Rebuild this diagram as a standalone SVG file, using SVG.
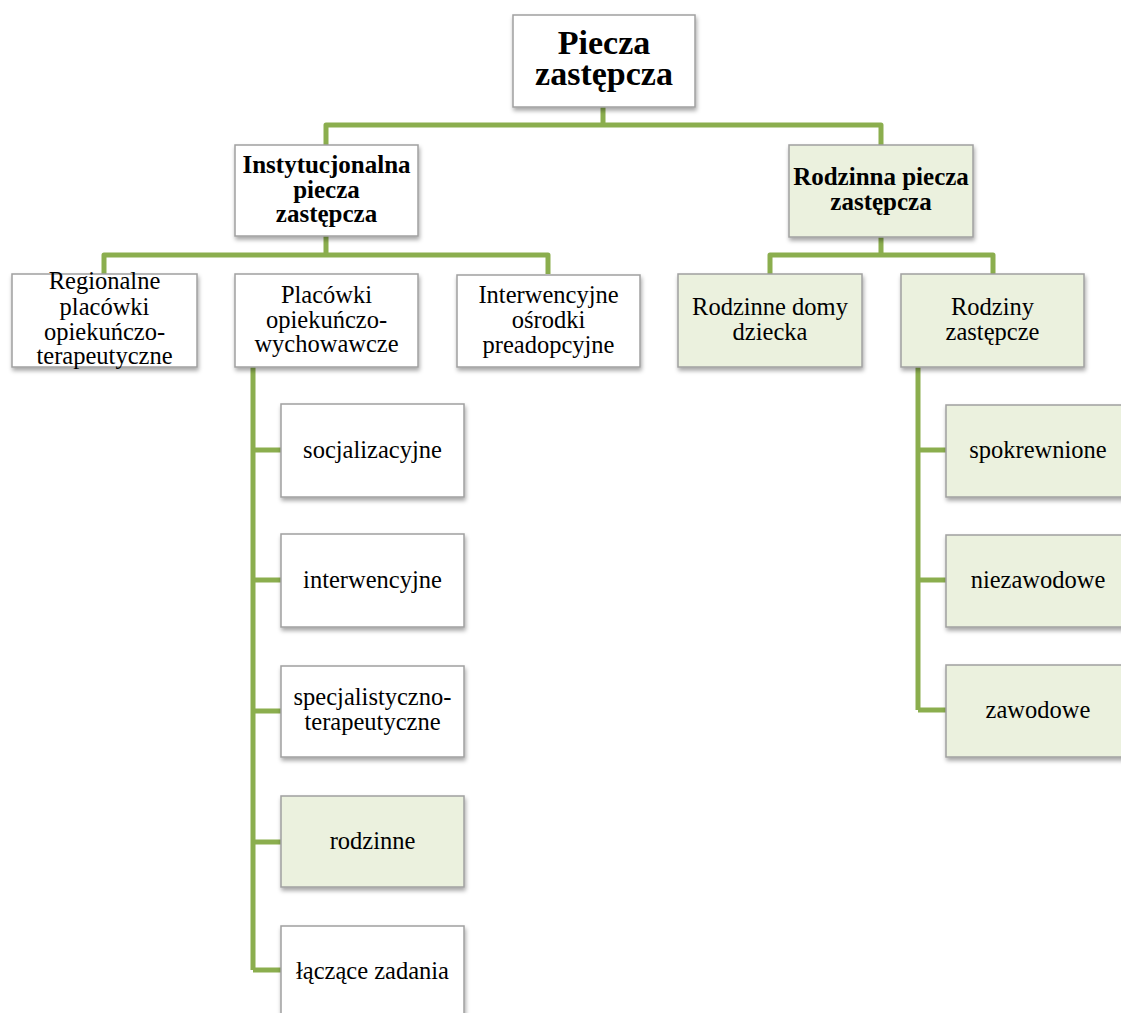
<svg xmlns="http://www.w3.org/2000/svg" width="1121" height="1013" viewBox="0 0 1121 1013">
<defs>
<filter id="sh" x="-10%" y="-10%" width="130%" height="140%">
<feDropShadow dx="1" dy="3" stdDeviation="2" flood-color="#000" flood-opacity="0.35"/>
</filter>
</defs>
<style>
.b{fill:#ffffff;stroke:#a0a0a0;stroke-width:1.5;filter:url(#sh)}
.g{fill:#ebf1de;stroke:#a0a0a0;stroke-width:1.5;filter:url(#sh)}
.c{fill:none;stroke:#8bae4e;stroke-width:5;stroke-linejoin:round;stroke-linecap:butt}
text{font-family:"Liberation Serif","Times New Roman",serif;fill:#000;text-anchor:middle}
.r{font-size:24.5px}
.bd{font-size:25px;font-weight:bold}
.rt{font-size:34px;font-weight:bold}
</style>
<rect width="1121" height="1013" fill="#ffffff"/>
<g id="connectors">
<path class="c" d="M603,107 V125 M326,145 V125 H881 V145"/>
<path class="c" d="M326,236 V255 M104,274 V255 H548 V274"/>
<path class="c" d="M881,237 V255 M770,274 V255 H993 V274"/>
<path class="c" d="M253,367 V970 M253,450 H281 M253,580 H281 M253,711 H281 M253,842 H281 M253,970 H281"/>
<path class="c" d="M918,367 V710 M918,450 H946 M918,580 H946 M918,710 H946"/>
</g>
<g id="root">
<rect class="b" x="513" y="15" width="182" height="92"/>
<text class="rt" x="604" y="54">Piecza</text>
<text class="rt" x="604" y="85">zastępcza</text>
</g>
<g id="instytucjonalna">
<rect class="b" x="235" y="145" width="183" height="91"/>
<text class="bd" x="326.5" y="173">Instytucjonalna</text>
<text class="bd" x="326.5" y="198">piecza</text>
<text class="bd" x="326.5" y="222">zastępcza</text>
</g>
<g id="rodzinna">
<rect class="g" x="789" y="145" width="184" height="92"/>
<text class="bd" x="881" y="185">Rodzinna piecza</text>
<text class="bd" x="881" y="210">zastępcza</text>
</g>
<g id="regionalne">
<rect class="b" x="12" y="274" width="185" height="93"/>
<text class="r" x="104.5" y="289">Regionalne</text>
<text class="r" x="104.5" y="315">placówki</text>
<text class="r" x="104.5" y="340">opiekuńczo-</text>
<text class="r" x="104.5" y="364">terapeutyczne</text>
</g>
<g id="placowki">
<rect class="b" x="235" y="274" width="183" height="93"/>
<text class="r" x="326.5" y="303">Placówki</text>
<text class="r" x="326.5" y="328">opiekuńczo-</text>
<text class="r" x="326.5" y="352">wychowawcze</text>
</g>
<g id="interwencyjne-osrodki">
<rect class="b" x="457" y="275" width="183" height="92"/>
<text class="r" x="548.5" y="303">Interwencyjne</text>
<text class="r" x="548.5" y="328">ośrodki</text>
<text class="r" x="548.5" y="353">preadopcyjne</text>
</g>
<g id="rodzinne-domy">
<rect class="g" x="678" y="274" width="184" height="93"/>
<text class="r" x="770" y="315">Rodzinne domy</text>
<text class="r" x="770" y="340">dziecka</text>
</g>
<g id="rodziny">
<rect class="g" x="901" y="274" width="183" height="93"/>
<text class="r" x="992.5" y="315">Rodziny</text>
<text class="r" x="992.5" y="340">zastępcze</text>
</g>
<g id="socjalizacyjne">
<rect class="b" x="281" y="404" width="183" height="93"/>
<text class="r" x="372.5" y="458">socjalizacyjne</text>
</g>
<g id="interwencyjne">
<rect class="b" x="281" y="534" width="183" height="93"/>
<text class="r" x="372.5" y="588">interwencyjne</text>
</g>
<g id="specjalistyczno">
<rect class="b" x="281" y="666" width="183" height="91"/>
<text class="r" x="372.5" y="705">specjalistyczno-</text>
<text class="r" x="372.5" y="730">terapeutyczne</text>
</g>
<g id="rodzinne">
<rect class="g" x="281" y="796" width="183" height="91"/>
<text class="r" x="372.5" y="849">rodzinne</text>
</g>
<g id="laczace">
<rect class="b" x="281" y="926" width="183" height="93"/>
<text class="r" x="372.5" y="979">łączące zadania</text>
</g>
<g id="spokrewnione">
<rect class="g" x="946" y="405" width="184" height="92"/>
<text class="r" x="1038" y="458">spokrewnione</text>
</g>
<g id="niezawodowe">
<rect class="g" x="946" y="535" width="184" height="92"/>
<text class="r" x="1038" y="588">niezawodowe</text>
</g>
<g id="zawodowe">
<rect class="g" x="946" y="665" width="184" height="92"/>
<text class="r" x="1038" y="718">zawodowe</text>
</g>
</svg>
